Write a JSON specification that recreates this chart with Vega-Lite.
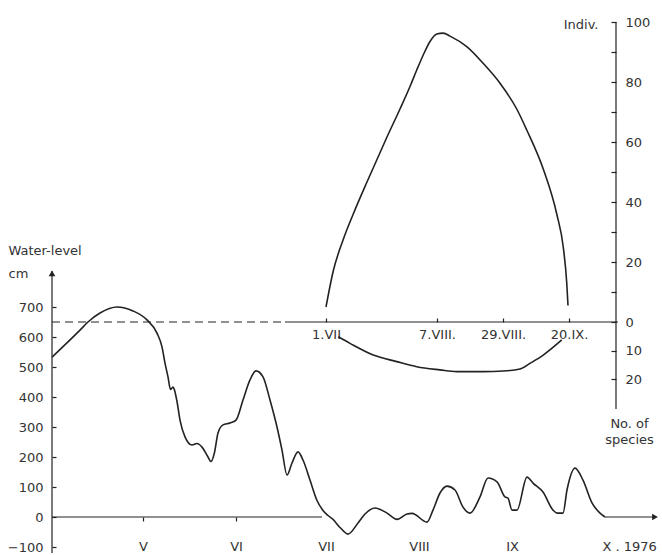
{
  "$schema": "https://vega.github.io/schema/vega-lite/v6.json",
  "width": 606,
  "height": 543,
  "autosize": {"type": "none"},
  "padding": {"left": 52, "top": 10, "right": 4, "bottom": 2},
  "background": "white",
  "config": {
    "view": {"stroke": null},
    "font": "DejaVu Sans",
    "axis": {
      "labelFont": "DejaVu Sans", "labelFontSize": 13, "labelColor": "#333",
      "titleFont": "DejaVu Sans", "titleFontSize": 13, "titleFontWeight": "normal", "titleColor": "#333",
      "tickColor": "#222", "tickWidth": 1.2, "grid": false, "domain": false,
      "labelOverlap": false, "labelBound": false, "labelFlush": false
    }
  },
  "datasets": {
    "water": [
      {"date": "1976-03-31T16:00", "level": 533},
      {"date": "1976-04-10T00:00", "level": 623},
      {"date": "1976-04-12T16:00", "level": 650},
      {"date": "1976-04-16T16:00", "level": 680},
      {"date": "1976-04-22T08:00", "level": 700},
      {"date": "1976-04-27T16:00", "level": 687},
      {"date": "1976-05-02T08:00", "level": 657},
      {"date": "1976-05-05T16:00", "level": 613},
      {"date": "1976-05-07T08:00", "level": 567},
      {"date": "1976-05-08T08:00", "level": 513},
      {"date": "1976-05-09T08:00", "level": 467},
      {"date": "1976-05-10T04:00", "level": 425},
      {"date": "1976-05-11T00:00", "level": 433},
      {"date": "1976-05-11T08:00", "level": 428},
      {"date": "1976-05-12T08:00", "level": 385},
      {"date": "1976-05-13T08:00", "level": 323},
      {"date": "1976-05-15T00:00", "level": 267},
      {"date": "1976-05-17T08:00", "level": 240},
      {"date": "1976-05-19T00:00", "level": 245},
      {"date": "1976-05-20T16:00", "level": 233},
      {"date": "1976-05-22T16:00", "level": 200},
      {"date": "1976-05-23T16:00", "level": 185},
      {"date": "1976-05-24T20:00", "level": 215},
      {"date": "1976-05-26T00:00", "level": 280},
      {"date": "1976-05-27T16:00", "level": 307},
      {"date": "1976-05-30T00:00", "level": 313},
      {"date": "1976-06-01T00:00", "level": 323},
      {"date": "1976-06-03T08:00", "level": 390},
      {"date": "1976-06-05T16:00", "level": 457},
      {"date": "1976-06-07T16:00", "level": 487},
      {"date": "1976-06-10T00:00", "level": 467},
      {"date": "1976-06-12T08:00", "level": 390},
      {"date": "1976-06-14T16:00", "level": 300},
      {"date": "1976-06-16T08:00", "level": 223},
      {"date": "1976-06-18T00:00", "level": 140},
      {"date": "1976-06-19T16:00", "level": 180},
      {"date": "1976-06-21T16:00", "level": 217},
      {"date": "1976-06-23T08:00", "level": 190},
      {"date": "1976-06-25T16:00", "level": 123},
      {"date": "1976-06-28T00:00", "level": 55},
      {"date": "1976-06-30T00:00", "level": 22},
      {"date": "1976-07-01T16:00", "level": 5},
      {"date": "1976-07-03T08:00", "level": -8},
      {"date": "1976-07-05T16:00", "level": -35},
      {"date": "1976-07-08T08:00", "level": -57},
      {"date": "1976-07-11T16:00", "level": -20},
      {"date": "1976-07-14T00:00", "level": 10},
      {"date": "1976-07-17T08:00", "level": 30},
      {"date": "1976-07-21T08:00", "level": 13},
      {"date": "1976-07-24T16:00", "level": -8},
      {"date": "1976-07-28T00:00", "level": 10},
      {"date": "1976-07-29T16:00", "level": 12},
      {"date": "1976-08-03T16:00", "level": -17},
      {"date": "1976-08-05T16:00", "level": 23},
      {"date": "1976-08-08T00:00", "level": 80},
      {"date": "1976-08-10T08:00", "level": 103},
      {"date": "1976-08-13T00:00", "level": 90},
      {"date": "1976-08-15T16:00", "level": 33},
      {"date": "1976-08-18T00:00", "level": 13},
      {"date": "1976-08-21T08:00", "level": 67},
      {"date": "1976-08-24T00:00", "level": 130},
      {"date": "1976-08-27T00:00", "level": 117},
      {"date": "1976-08-29T16:00", "level": 67},
      {"date": "1976-08-30T16:00", "level": 63},
      {"date": "1976-09-01T00:00", "level": 23},
      {"date": "1976-09-02T16:00", "level": 23},
      {"date": "1976-09-06T00:00", "level": 133},
      {"date": "1976-09-08T00:00", "level": 113},
      {"date": "1976-09-11T08:00", "level": 83},
      {"date": "1976-09-14T16:00", "level": 23},
      {"date": "1976-09-16T00:00", "level": 13},
      {"date": "1976-09-18T00:00", "level": 13},
      {"date": "1976-09-19T08:00", "level": 90},
      {"date": "1976-09-22T00:00", "level": 163},
      {"date": "1976-09-24T16:00", "level": 123},
      {"date": "1976-09-27T16:00", "level": 47},
      {"date": "1976-09-30T08:00", "level": 13},
      {"date": "1976-10-02T00:00", "level": 0}
    ],
    "indiv": [
      {"date": "1976-07-01T00:00", "individuals": 5},
      {"date": "1976-07-03T10:00", "individuals": 17},
      {"date": "1976-07-06T18:00", "individuals": 27.5},
      {"date": "1976-07-10T02:00", "individuals": 36},
      {"date": "1976-07-14T14:00", "individuals": 46.5},
      {"date": "1976-07-17T22:00", "individuals": 54},
      {"date": "1976-07-21T06:00", "individuals": 61.5},
      {"date": "1976-07-25T16:00", "individuals": 71},
      {"date": "1976-07-29T00:00", "individuals": 78.5},
      {"date": "1976-07-31T06:00", "individuals": 84},
      {"date": "1976-08-02T10:00", "individuals": 89},
      {"date": "1976-08-04T16:00", "individuals": 93.5},
      {"date": "1976-08-06T22:00", "individuals": 96},
      {"date": "1976-08-09T02:00", "individuals": 96.3},
      {"date": "1976-08-11T08:00", "individuals": 95.3},
      {"date": "1976-08-16T22:00", "individuals": 91.8},
      {"date": "1976-08-22T10:00", "individuals": 86.2},
      {"date": "1976-08-28T00:00", "individuals": 79.6},
      {"date": "1976-09-02T14:00", "individuals": 71},
      {"date": "1976-09-05T22:00", "individuals": 64},
      {"date": "1976-09-11T10:00", "individuals": 51},
      {"date": "1976-09-15T22:00", "individuals": 36},
      {"date": "1976-09-18T02:00", "individuals": 25},
      {"date": "1976-09-19T06:00", "individuals": 13},
      {"date": "1976-09-19T16:00", "individuals": 5.5}
    ],
    "species": [
      {"date": "1976-07-05T02:00", "species": 5.2},
      {"date": "1976-07-09T00:00", "species": 7.5},
      {"date": "1976-07-16T18:00", "species": 11.6},
      {"date": "1976-07-24T14:00", "species": 13.9},
      {"date": "1976-07-31T06:00", "species": 15.7},
      {"date": "1976-08-08T00:00", "species": 16.8},
      {"date": "1976-08-13T14:00", "species": 17.4},
      {"date": "1976-08-22T10:00", "species": 17.4},
      {"date": "1976-08-29T02:00", "species": 17.2},
      {"date": "1976-09-03T16:00", "species": 16.5},
      {"date": "1976-09-07T00:00", "species": 14.5},
      {"date": "1976-09-11T10:00", "species": 11.6},
      {"date": "1976-09-17T14:00", "species": 6.3}
    ]
  },
  "layer": [
    {
      "layer": [
        {
          "data": {"name": "water"},
          "mark": {"type": "line", "interpolate": "monotone", "color": "#222", "strokeWidth": 1.6},
          "encoding": {
            "x": {
              "field": "date", "type": "temporal",
              "scale": {"domain": [{"year": 1976, "month": 3, "date": 31, "hours": 16}, {"year": 1976, "month": 10, "date": 19, "hours": 16}], "nice": false},
              "axis": {
                "orient": "bottom", "offset": -36, "title": null,
                "values": [{"year": 1976, "month": 5, "date": 1}, {"year": 1976, "month": 6, "date": 1}, {"year": 1976, "month": 7, "date": 1}, {"year": 1976, "month": 8, "date": 1}, {"year": 1976, "month": 9, "date": 1}, {"year": 1976, "month": 10, "date": 1}],
                "labelExpr": "['I','II','III','IV','V','VI','VII','VIII','IX','X . 1976'][month(datum.value)]",
                "labelAlign": {"condition": {"test": "month(datum.value) == 9", "value": "left"}, "value": "center"},
                "tickSize": 4,
                "tickOpacity": {"condition": {"test": "month(datum.value) < 6", "value": 1}, "value": 0},
                "labelPadding": 19
              }
            },
            "y": {
              "field": "level", "type": "quantitative",
              "scale": {"domain": [-120, 1690], "nice": false, "zero": false},
              "axis": {
                "orient": "left",
                "values": [-100, 0, 100, 200, 300, 400, 500, 600, 700],
                "tickSize": -4, "labelPadding": 13,
                "title": ["Water-level", "cm"], "titleAngle": 0, "titleAlign": "left",
                "titleBaseline": "alphabetic", "titleX": -44, "titleY": 244, "titleLineHeight": 23
              }
            }
          }
        },
        {
          "data": {"values": [{}]},
          "mark": {"type": "rule", "color": "#222", "strokeWidth": 1.2},
          "encoding": {
            "x": {"datum": {"year": 1976, "month": 3, "date": 31, "hours": 16}, "type": "temporal"},
            "x2": {"datum": {"year": 1976, "month": 6, "date": 29, "hours": 16}},
            "y": {"datum": 0, "type": "quantitative"}
          }
        },
        {
          "data": {"values": [{}]},
          "mark": {"type": "rule", "color": "#222", "strokeWidth": 1.2},
          "encoding": {
            "x": {"datum": {"year": 1976, "month": 10, "date": 2}, "type": "temporal"},
            "x2": {"datum": {"year": 1976, "month": 10, "date": 18, "hours": 12}},
            "y": {"datum": 0, "type": "quantitative"}
          }
        },
        {
          "data": {"values": [{}]},
          "mark": {"type": "rule", "color": "#222", "strokeWidth": 1.2},
          "encoding": {
            "x": {"datum": {"year": 1976, "month": 3, "date": 31, "hours": 16}, "type": "temporal"},
            "y": {"datum": -120, "type": "quantitative"},
            "y2": {"datum": 820}
          }
        },
        {
          "data": {"values": [{}]},
          "mark": {"type": "point", "shape": "triangle-up", "filled": true, "size": 45, "color": "#222", "opacity": 1},
          "encoding": {
            "x": {"datum": {"year": 1976, "month": 3, "date": 31, "hours": 16}, "type": "temporal"},
            "y": {"datum": 812, "type": "quantitative"}
          }
        },
        {
          "data": {"values": [{}]},
          "mark": {"type": "point", "shape": "triangle-right", "filled": true, "size": 45, "color": "#222", "opacity": 1},
          "encoding": {
            "x": {"datum": {"year": 1976, "month": 10, "date": 18, "hours": 16}, "type": "temporal"},
            "y": {"datum": 0, "type": "quantitative"}
          }
        }
      ]
    },
    {
      "layer": [
        {
          "data": {"name": "indiv"},
          "mark": {"type": "line", "interpolate": "monotone", "color": "#222", "strokeWidth": 1.6},
          "encoding": {
            "x": {
              "field": "date", "type": "temporal",
              "axis": {
                "orient": "bottom", "offset": -231, "title": null,
                "values": [{"year": 1976, "month": 7, "date": 1}, {"year": 1976, "month": 8, "date": 7}, {"year": 1976, "month": 8, "date": 29}, {"year": 1976, "month": 9, "date": 20}],
                "labelExpr": "month(datum.value) == 6 ? '1.VII' : (month(datum.value) == 7 && date(datum.value) == 7 ? '7.VIII.' : (month(datum.value) == 7 ? '29.VIII.' : '20.IX.'))",
                "tickSize": -4, "labelPadding": 10
              }
            },
            "y": {
              "field": "individuals", "type": "quantitative",
              "scale": {"domain": [-77, 104], "nice": false, "zero": false},
              "axis": {
                "orient": "right", "offset": -42,
                "values": [0, 10, 20, 30, 40, 50, 60, 70, 80, 90, 100],
                "labelExpr": "datum.value % 20 === 0 ? datum.label : ''",
                "tickSize": -5, "labelPadding": 14,
                "title": "Indiv.", "titleAngle": 0, "titleAlign": "right",
                "titleBaseline": "alphabetic", "titleX": -18, "titleY": 18
              }
            }
          }
        },
        {
          "data": {"values": [{}]},
          "mark": {"type": "rule", "color": "#222", "strokeWidth": 1.2, "strokeDash": [8, 5]},
          "encoding": {
            "x": {"datum": {"year": 1976, "month": 3, "date": 31, "hours": 16}, "type": "temporal"},
            "x2": {"datum": {"year": 1976, "month": 6, "date": 17, "hours": 8}},
            "y": {"datum": 0, "type": "quantitative"}
          }
        },
        {
          "data": {"values": [{}]},
          "mark": {"type": "rule", "color": "#222", "strokeWidth": 1.2},
          "encoding": {
            "x": {"datum": {"year": 1976, "month": 6, "date": 17, "hours": 8}, "type": "temporal"},
            "x2": {"datum": {"year": 1976, "month": 10, "date": 6, "hours": 8}},
            "y": {"datum": 0, "type": "quantitative"}
          }
        },
        {
          "data": {"values": [{}]},
          "mark": {"type": "rule", "color": "#222", "strokeWidth": 1.2},
          "encoding": {
            "x": {"datum": {"year": 1976, "month": 10, "date": 5, "hours": 16}, "type": "temporal"},
            "y": {"datum": 100, "type": "quantitative"},
            "y2": {"datum": -29}
          }
        }
      ]
    },
    {
      "data": {"name": "species"},
      "mark": {"type": "line", "interpolate": "monotone", "color": "#222", "strokeWidth": 1.6},
      "encoding": {
        "x": {"field": "date", "type": "temporal", "axis": null},
        "y": {
          "field": "species", "type": "quantitative",
          "scale": {"domain": [-109.47, 81.05], "reverse": true, "nice": false, "zero": false},
          "axis": {
            "orient": "right", "offset": -42,
            "values": [10, 20],
            "tickSize": -5, "labelPadding": 14,
            "title": ["No. of", "species"], "titleAngle": 0, "titleAlign": "center",
            "titleBaseline": "alphabetic", "titleX": 13, "titleY": 417, "titleLineHeight": 16
          }
        }
      }
    }
  ],
  "resolve": {
    "scale": {"y": "independent"},
    "axis": {"x": "independent", "y": "independent"}
  }
}
